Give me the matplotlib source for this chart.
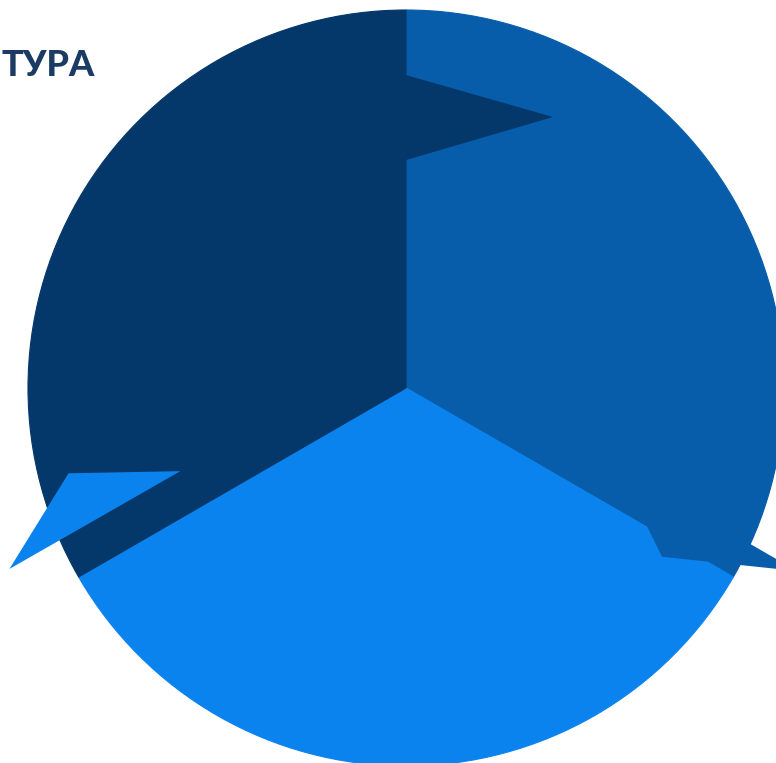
import matplotlib
matplotlib.use("Agg")
import matplotlib.pyplot as plt
import numpy as np
from matplotlib.patches import Polygon

# --- data ---
categories = ["Сегмент 1", "Сегмент 2", "Сегмент 3"]
shares = [33.3, 33.3, 33.3]
slice_colors = ["#085DAB", "#0B83EE", "#04376A"]
title_fragment = "ТУРА"

W, H = 776, 763
fig = plt.figure(figsize=(W / 100, H / 100), dpi=100)
ax = fig.add_axes([0, 0, 1, 1])

cx, cy, R = 406, H - 388, 378
wedges, _ = ax.pie(shares, colors=slice_colors, startangle=90, counterclock=False,
                   center=(cx, cy), radius=R)
for w, c in zip(wedges, slice_colors):
    w.set_edgecolor(c)
    w.set_linewidth(0.8)

def boundary_poly(theta_deg, pts):
    t = np.deg2rad(theta_deg)
    d = np.array([np.cos(t), np.sin(t)])
    n = np.array([np.sin(t), -np.cos(t)])  # clockwise normal
    return [(cx + R * (u * d[0] + v * n[0]), cy + R * (u * d[1] + v * n[1])) for u, v in pts]

# decorative arrow shapes (fractions of radius along / across each wedge boundary)
arrow_specs = [
    (90, [(0.603, 0.0), (0.828, 0.0), (0.717, 0.389)], slice_colors[2]),
    (210, [(0.627, 0.108), (1.148, 0.110), (0.886, 0.251)], slice_colors[1]),
    (-30, [(0.590, -0.098), (1.138, -0.098), (0.810, 0.048)], slice_colors[0]),
]
for theta, pts, col in arrow_specs:
    ax.add_patch(Polygon(boundary_poly(theta, pts), closed=True, facecolor=col,
                         edgecolor="none", zorder=3))

ax.text(1, H - 76, title_fragment, ha="left", va="baseline", fontsize=26,
        fontweight="black", color="#1B3A64", family=["Lato", "DejaVu Sans"])

ax.set_xlim(0, W)
ax.set_ylim(0, H)
ax.set_aspect("equal")
ax.axis("off")
fig.savefig("out.png", dpi=100)
